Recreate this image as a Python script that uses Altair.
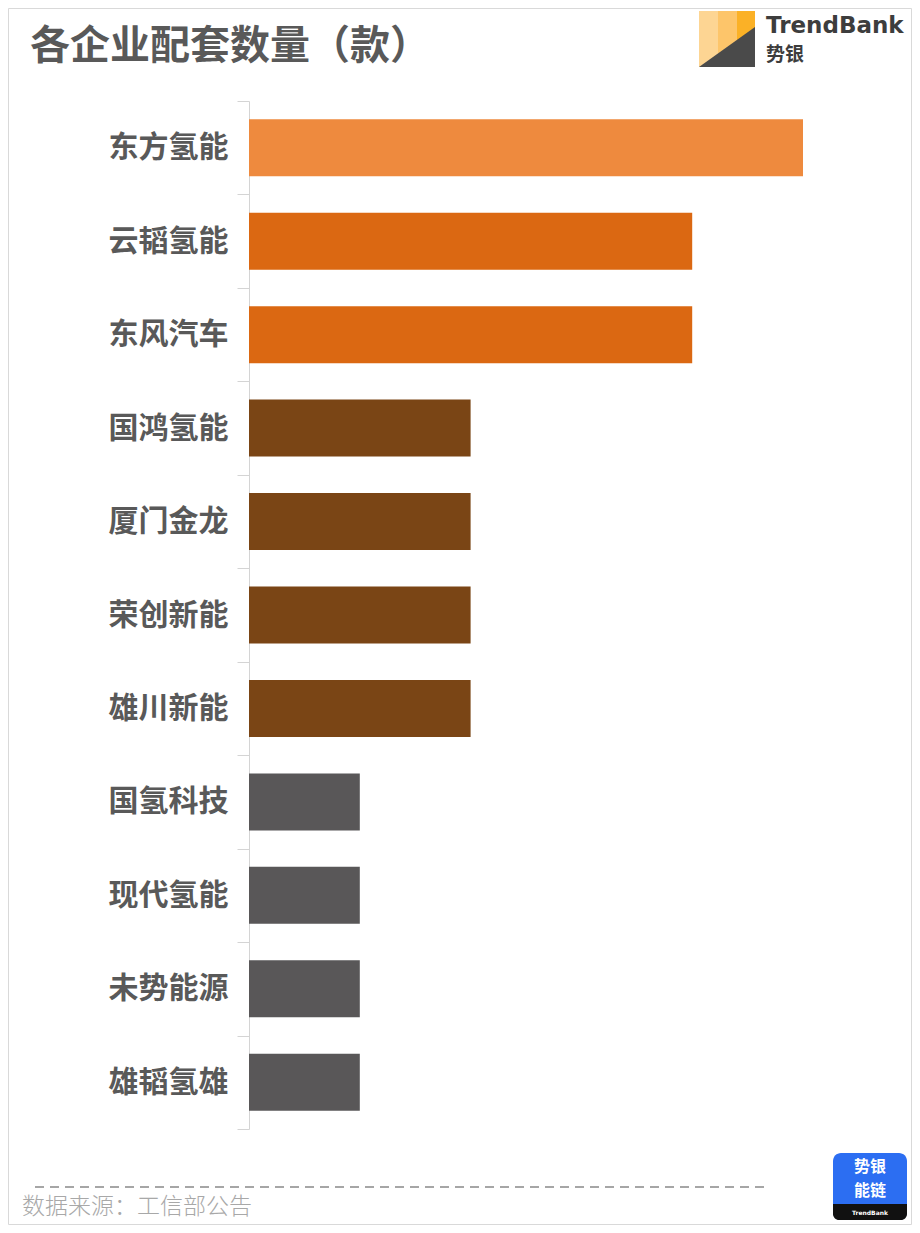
import altair as alt
import pandas as pd

# ---- data ----
companies = ["东方氢能", "云韬氢能", "东风汽车", "国鸿氢能", "厦门金龙", "荣创新能",
             "雄川新能", "国氢科技", "现代氢能", "未势能源", "雄韬氢雄"]
counts = [5, 4, 4, 2, 2, 2, 2, 1, 1, 1, 1]
tiers = ["t1", "t2", "t2", "t3", "t3", "t3", "t3", "t4", "t4", "t4", "t4"]
tier_colors = ["#EE8A3E", "#DB6812", "#7A4515", "#595758"]
title_text = "各企业配套数量（款）"
source_text = "数据来源：工信部公告"

df = pd.DataFrame({"company": companies, "count": counts, "tier": tiers})

FONT = "Noto Sans CJK SC"
PLOT_W, PLOT_H = 554, 1028

bars = alt.Chart(df).mark_bar(height=alt.RelativeBandSize(0.61)).encode(
    x=alt.X("count:Q", scale=alt.Scale(domain=[0, 5], nice=False), axis=None),
    y=alt.Y("company:N", sort=companies,
            scale=alt.Scale(paddingInner=0, paddingOuter=0),
            axis=alt.Axis(title=None, tickBand="extent", tickSize=12,
                          tickColor="#d4d4d4", domainColor="#d4d4d4",
                          labelFont=FONT, labelFontWeight="bold",
                          labelFontSize=30, labelColor="#595959",
                          labelPadding=9, grid=False)),
    color=alt.Color("tier:N", scale=alt.Scale(domain=["t1", "t2", "t3", "t4"], range=tier_colors),
                    legend=None),
)

one = alt.Data(values=[{"a": 1}])


def txt(text, x, y, size, color, weight="normal", align="left", font=FONT):
    return alt.Chart(one).mark_text(text=text, align=align, baseline="middle",
                                    fontSize=size, font=font, fontWeight=weight,
                                    color=color).encode(x=alt.value(x), y=alt.value(y))


def box(x, x2, y, y2, color, radius=0):
    return alt.Chart(one).mark_rect(color=color, cornerRadius=radius).encode(
        x=alt.value(x), x2=alt.value(x2), y=alt.value(y), y2=alt.value(y2))


border = alt.Chart(one).mark_rect(fillOpacity=0, stroke="#d9d9d9", strokeWidth=1).encode(
    x=alt.value(-240.5), x2=alt.value(662.5), y=alt.value(-92.5), y2=alt.value(1123.5))

title = txt(title_text, -219, -54, 40, "#595959", weight="bold")

# logo (top right)
logo_stripe1 = box(450, 469, -90, -34, "#FDD593")
logo_stripe2 = box(469, 488, -90, -34, "#FDC56A")
logo_stripe3 = box(488, 506, -90, -34, "#FBB126")
logo_tri = alt.Chart(one).mark_point(shape="M -1 1 L 1 -0.43 L 1 1 Z", filled=True,
                                     size=56 * 56, color="#4a4a4a", opacity=1).encode(
    x=alt.value(478), y=alt.value(-62))
logo_name = txt("TrendBank", 517, -75, 23, "#3d3d3d", weight="bold", font="DejaVu Sans")
logo_cn = txt("势银", 517, -46, 19, "#3d3d3d", weight="bold")

# footer
dash = alt.Chart(one).mark_rule(color="#a6a6a6", strokeWidth=2, strokeDash=[9, 6]).encode(
    x=alt.value(-214), x2=alt.value(521), y=alt.value(1086))
source = txt(source_text, -227, 1106, 23, "#a8a8a8", weight=300)

# app icon (bottom right)
icon_bg = box(584, 658, 1052, 1119, "#2C6EF2", radius=8)
icon_bottom = box(584, 658, 1103, 1119, "#111111", radius=6)
icon_bottom2 = box(584, 658, 1103, 1110, "#111111")
icon_t1 = txt("势银", 621, 1066, 16, "white", weight="bold", align="center")
icon_t2 = txt("能链", 621, 1090, 16, "white", weight="bold", align="center")
icon_t3 = txt("TrendBank", 621, 1112, 6, "white", weight="bold", align="center",
              font="DejaVu Sans")

chart = alt.layer(
    border, bars, title,
    logo_stripe1, logo_stripe2, logo_stripe3, logo_tri, logo_name, logo_cn,
    dash, source,
    icon_bg, icon_bottom, icon_bottom2, icon_t1, icon_t2, icon_t3,
).properties(
    width=PLOT_W, height=PLOT_H,
    autosize=alt.AutoSizeParams(type="none"),
    padding={"left": 241, "top": 93, "right": 109, "bottom": 96},
).configure(background="white").configure_view(strokeWidth=0, stroke="transparent")

chart.save("out.html", embed_options={"renderer": "svg", "actions": False})
